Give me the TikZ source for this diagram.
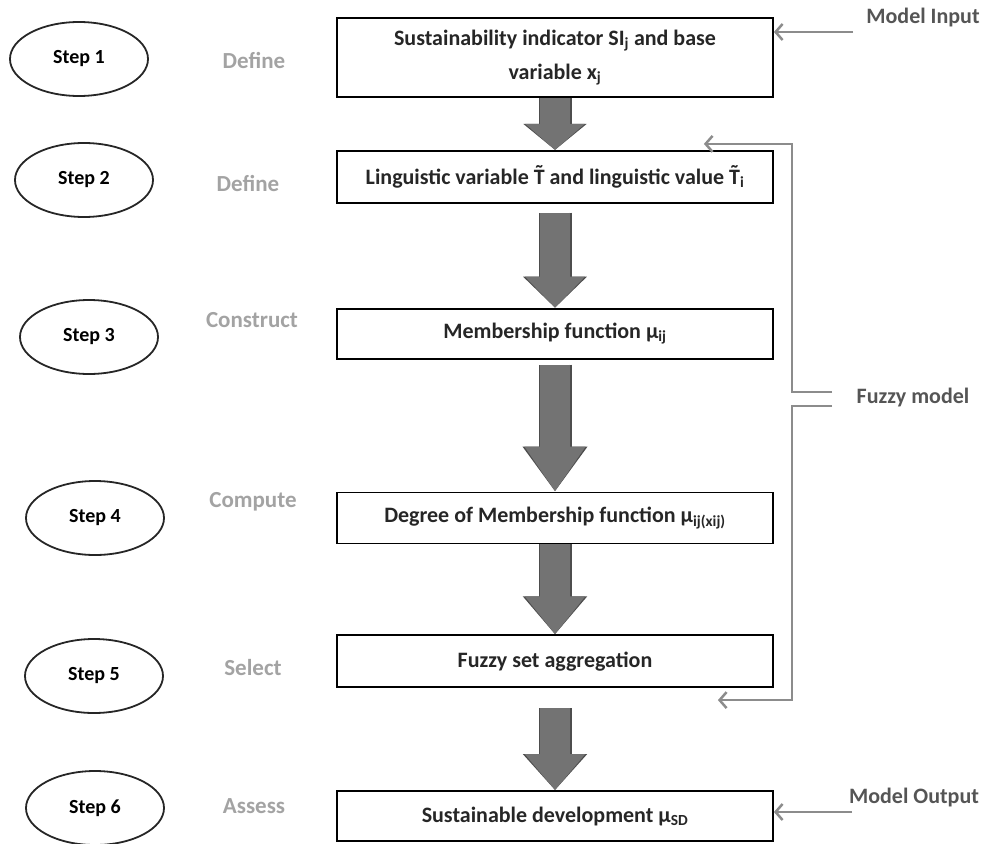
\documentclass[tikz,border=0pt]{standalone}
\usepackage{fontspec}
\setmainfont{Carlito}
\usetikzlibrary{arrows.meta,positioning,calc,shapes.geometric}
\definecolor{fmgrey}{HTML}{8C8C8C}
\definecolor{fmlabel}{HTML}{A3A3A3}
\definecolor{fmdark}{HTML}{555555}
\definecolor{fmfill}{HTML}{737373}
\definecolor{fmedge}{HTML}{4D4D4D}
\newcommand{\tT}{\accent"02DC T}

\begin{document}
\begin{tikzpicture}[x=1pt, y=-1pt,
  font=\bfseries\fontsize{22}{34}\selectfont,
  box/.style={draw=black, line width=1.8pt, minimum width=436pt, minimum height=#1, inner sep=4pt, align=center, text=black!85},
  stepnode/.style={draw=black!85, line width=1.8pt, ellipse, minimum width=138pt, minimum height=74pt, inner sep=0pt, font=\bfseries\fontsize{20}{22}\selectfont},
  verb/.style={text=fmlabel, font=\bfseries\fontsize{23}{26}\selectfont},
  side/.style={text=fmdark, font=\bfseries\fontsize{22}{26}\selectfont},
  blk/.style={line width=30pt, fmfill, -{Triangle[width=58pt,length=#1]},
    preaction={draw=fmedge, line width=33pt, -{Triangle[width=62pt,length=#1]}}},
  thinarr/.style={draw=fmgrey, line width=2.5pt, -{Straight Barb[length=7pt,width=16pt]}},
]
\useasboundingbox (0,0) rectangle (987,843);

% main column
\node[box=79pt] (b1) at (555,57.5) {Sustainability indicator SI\textsubscript{j} and base\\variable x\textsubscript{j}};
\node[box=52pt, below=52pt of b1] (b2) {Linguistic variable \tT\ and linguistic value \tT\textsubscript{i}};
\node[box=50pt, below=104pt of b2] (b3) {Membership function μ\textsubscript{ij}};
\node[box=51pt, below=132pt of b3] (b4) {Degree of Membership function μ\textsubscript{ij(xij)}};
\node[box=52pt, below=90pt of b4] (b5) {Fuzzy set aggregation};
\node[box=50pt, below=102pt of b5] (b6) {Sustainable development μ\textsubscript{SD}};

% steps
\node[stepnode] (s1) at (79,59) {Step 1};
\node[stepnode] (s2) at (84,180) {Step 2};
\node[stepnode] (s3) at (89,337) {Step 3};
\node[stepnode] (s4) at (95,518) {Step 4};
\node[stepnode] (s5) at (94,676) {Step 5};
\node[stepnode] (s6) at (95,808) {Step 6};

\node[verb] (v1) at (254,60) {Define};
\node[verb] (v2) at (248,183) {Define};
\node[verb] (v3) at (252,320) {Construct};
\node[verb] (v4) at (253,502) {Compute};
\node[verb] (v5) at (253,668) {Select};
\node[verb] (v6) at (254,806) {Assess};

% block arrows
\draw[blk=26pt] (b1) -- (b2);
\draw[blk=31pt, shorten <=9pt] (b2) -- (b3);
\draw[blk=45pt, shorten <=5pt] (b3) -- (b4);
\draw[blk=38pt] (b4) -- (b5);
\draw[blk=36pt, shorten <=20pt] (b5) -- (b6);

% model input / output
\node[side] (min) at (923,18) {Model Input};
\coordinate (inp) at (853,32);
\draw[thinarr] (inp) -- (b1.east |- inp);
\node[side] (mout) at (914,797) {Model Output};
\coordinate (outp) at (852,812);
\draw[thinarr] (outp) -- (b6.east |- outp);

% fuzzy model bracket
\node[side] (fz) at (913,398) {Fuzzy model};
\coordinate (fzup) at (832,392);
\coordinate (fzdn) at (832,406);
\draw[thinarr] (fzup) -- ++(-40,0) |- ($(b2.north east)+(-70,-6)$);
\draw[thinarr] (fzdn) -- ++(-40,0) |- ($(b5.south east)+(-56,12)$);
\end{tikzpicture}
\end{document}
